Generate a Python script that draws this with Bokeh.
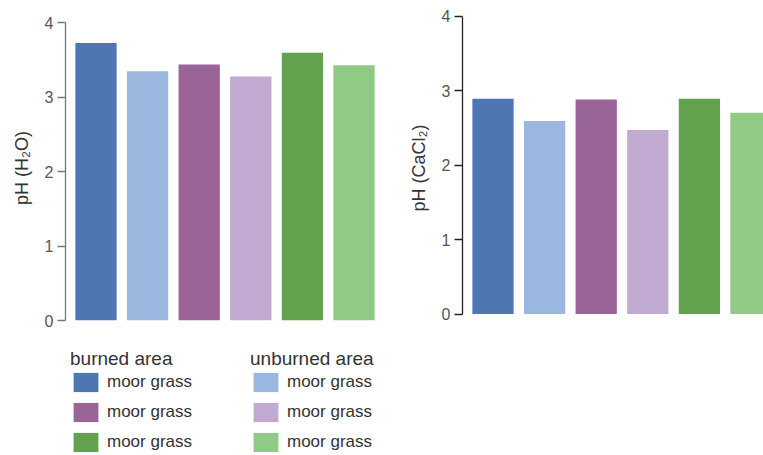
from bokeh.plotting import figure
from bokeh.models import ColumnDataSource, Range1d, FixedTicker, Legend, LegendItem
from bokeh.layouts import row, column
from bokeh.embed import file_html
from bokeh.resources import INLINE

# ---- data ----
groups = ["burned area", "unburned area", "burned area", "unburned area", "burned area", "unburned area"]
vegetation = ["moor grass", "moor grass", "moor grass", "moor grass", "moor grass", "moor grass"]
ph_h2o = [3.73, 3.35, 3.44, 3.28, 3.60, 3.43]
ph_cacl2 = [2.89, 2.59, 2.88, 2.47, 2.89, 2.70]
bar_colors = ["#4E76B3", "#9AB7E0", "#9B6499", "#C0AAD2", "#62A24E", "#90CA85"]
y_ticks = [0, 1, 2, 3, 4]

FONT = "Liberation Sans"
positions = list(range(len(ph_h2o)))

src = ColumnDataSource(dict(x=positions, h2o=ph_h2o, cacl2=ph_cacl2,
                            color=bar_colors, group=groups, veg=vegetation))


def style(p, axis_color, label):
    p.outline_line_color = None
    p.xgrid.visible = False
    p.ygrid.visible = False
    p.xaxis.visible = False
    ax = p.yaxis[0]
    ax.ticker = FixedTicker(ticks=y_ticks)
    ax.bounds = (y_ticks[0], y_ticks[-1])
    ax.axis_line_color = axis_color
    ax.axis_line_width = 1.3
    ax.major_tick_line_color = axis_color
    ax.major_tick_line_width = 1.3
    ax.major_tick_out = 8
    ax.major_tick_in = 0
    ax.minor_tick_line_color = None
    ax.major_label_standoff = 4
    ax.major_label_text_font = FONT
    ax.major_label_text_font_size = "16px"
    ax.major_label_text_color = "#555555"
    ax.axis_label = label
    ax.axis_label_text_font = FONT
    ax.axis_label_text_font_size = "18px"
    ax.axis_label_text_font_style = "normal"
    ax.axis_label_text_color = "#333333"
    ax.axis_label_standoff = 10


# ---- left panel: pH (H2O) ----
p1 = figure(output_backend="svg", toolbar_location=None,
            frame_width=320, frame_height=305,
            min_border_left=65, min_border_right=5, min_border_top=15, min_border_bottom=10,
            x_range=Range1d(-0.591, 5.61), y_range=Range1d(0, 4.099))
p1.vbar(x="x", top="h2o", bottom=0, width=0.8, color="color", source=src, line_color=None)
style(p1, "#777777", "pH (H\u2082O)")

# ---- legend block under the left panel ----
burned_idx = [i for i, g in enumerate(groups) if g == "burned area"]
unburned_idx = [i for i, g in enumerate(groups) if g == "unburned area"]

lf = figure(output_backend="svg", toolbar_location=None,
            frame_width=320, frame_height=107,
            min_border_left=65, min_border_right=5, min_border_top=18, min_border_bottom=0,
            x_range=Range1d(100, 101), y_range=Range1d(100, 101))
lf.outline_line_color = None
lf.xaxis.visible = False
lf.yaxis.visible = False
lf.xgrid.visible = False
lf.ygrid.visible = False
lr = lf.vbar(x="x", top="h2o", bottom=0, width=0.8, color="color", source=src, line_color=None)


def make_legend(title, idxs, loc):
    lg = Legend(items=[LegendItem(label=vegetation[i], renderers=[lr], index=i) for i in idxs],
                title=title, location=loc, orientation="vertical")
    lg.title_text_font = FONT
    lg.title_text_font_size = "19px"
    lg.title_text_font_style = "normal"
    lg.title_text_color = "#333333"
    lg.title_standoff = 0
    lg.label_text_font = FONT
    lg.label_text_font_size = "17px"
    lg.label_text_color = "#333333"
    lg.glyph_width = 31
    lg.glyph_height = 24
    lg.label_standoff = 6
    lg.spacing = 6
    lg.padding = 0
    lg.margin = 0
    lg.border_line_color = None
    lg.background_fill_alpha = 0
    return lg


lf.add_layout(make_legend("burned area", burned_idx, (5, 1)), "center")
lf.add_layout(make_legend("unburned area", unburned_idx, (185, 1)), "center")

# ---- right panel: pH (CaCl2) ----
p2 = figure(output_backend="svg", toolbar_location=None,
            frame_width=301, frame_height=305,
            min_border_left=72, min_border_right=0, min_border_top=15, min_border_bottom=10,
            x_range=Range1d(-0.591, 5.242), y_range=Range1d(-0.087, 4.007))
p2.vbar(x="x", top="cacl2", bottom=0, width=0.8, color="color", source=src, line_color=None)
style(p2, "#222222", "pH (CaCl\u2082)")

layout = row(column(p1, lf, spacing=0), p2, spacing=0)

open("out.html", "w").write(file_html(layout, INLINE))
